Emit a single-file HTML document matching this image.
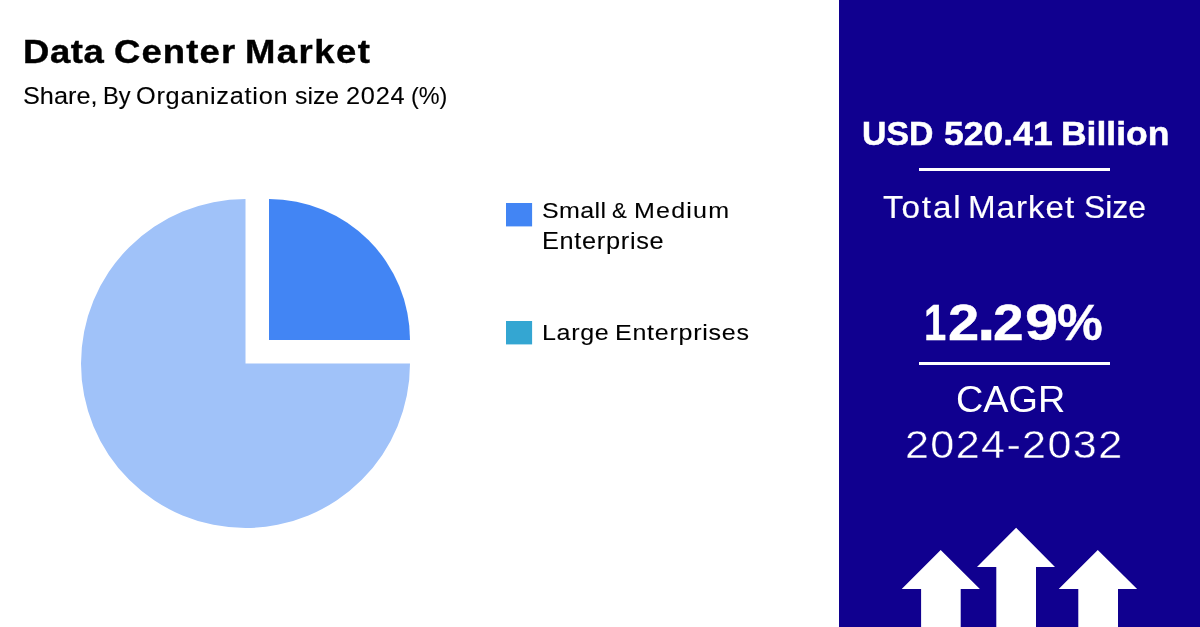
<!DOCTYPE html>
<html lang="en"><head><meta charset="utf-8"><title>Data Center Market</title>
<style>
html,body{margin:0;padding:0;background:#fff}
body{width:1200px;height:627px;position:relative;overflow:hidden;font-family:"Liberation Sans",sans-serif}
.panel{position:absolute;left:839px;top:0;width:361px;height:627px;background:#10008f}
.t{position:absolute;white-space:pre;transform-origin:0 0;display:block}
.rule{position:absolute;left:919px;width:191px;height:3px;background:#fff}
svg{position:absolute;left:0;top:0}
</style></head><body>
<div class="panel"></div>
<svg width="1200" height="627" viewBox="0 0 1200 627">
<path d="M245.5 363.5 L245.5 199 A164.5 164.5 0 1 0 410 363.5 Z" fill="#a0c2f9"/>
<path d="M269 340 L269 199 A141 141 0 0 1 410 340 Z" fill="#4285f4"/>
<rect x="506" y="203" width="26.1" height="23.4" fill="#4285f4"/>
<rect x="506" y="321" width="26.1" height="23.4" fill="#34a6d2"/>
<g fill="#fff">
<path d="M940.7 549.9 L979.9 589.1 L960.7 589.1 L960.7 627 L921.1 627 L921.1 589.1 L901.7 589.1 Z"/>
<path d="M1016.1 527.7 L1055 566.9 L1036 566.9 L1036 627 L996.3 627 L996.3 566.9 L977 566.9 Z"/>
<path d="M1097.8 549.9 L1137.1 589.1 L1118 589.1 L1118 627 L1078.3 627 L1078.3 589.1 L1058.7 589.1 Z"/>
</g>
</svg>
<div class="rule" style="top:168px"></div>
<div class="rule" style="top:362px"></div>
<div><span class="t" style="left:23.12px;top:35px;font-size:33.48px;line-height:33.48px;font-weight:700;color:#000;letter-spacing:0.554px;-webkit-text-stroke:0.4px #000;transform:scaleX(1.09)">Data </span>
<span class="t" style="left:114.14px;top:35px;font-size:33.48px;line-height:33.48px;font-weight:700;color:#000;letter-spacing:1.027px;-webkit-text-stroke:0.4px #000;transform:scaleX(1.09)">Center </span>
<span class="t" style="left:244.82px;top:35px;font-size:33.48px;line-height:33.48px;font-weight:700;color:#000;letter-spacing:1.327px;-webkit-text-stroke:0.4px #000;transform:scaleX(1.09)">Market</span></div>
<div><span class="t" style="left:22.71px;top:85px;font-size:23.26px;line-height:23.26px;font-weight:400;color:#000;-webkit-text-stroke:0.1px #000;transform:scaleX(1.087)">Share, </span>
<span class="t" style="left:102.52px;top:85px;font-size:23.26px;line-height:23.26px;font-weight:400;color:#000;letter-spacing:0.001px;-webkit-text-stroke:0.1px #000;transform:scaleX(1.0178)">By </span>
<span class="t" style="left:136.41px;top:85px;font-size:23.26px;line-height:23.26px;font-weight:400;color:#000;letter-spacing:0.654px;-webkit-text-stroke:0.1px #000;transform:scaleX(1.09)">Organization </span>
<span class="t" style="left:294.77px;top:85px;font-size:23.26px;line-height:23.26px;font-weight:400;color:#000;-webkit-text-stroke:0.1px #000;transform:scaleX(1.0675)">size </span>
<span class="t" style="left:345.61px;top:85px;font-size:23.26px;line-height:23.26px;font-weight:400;color:#000;letter-spacing:0.681px;-webkit-text-stroke:0.1px #000;transform:scaleX(1.09)">2024 </span>
<span class="t" style="left:411.24px;top:85px;font-size:23.26px;line-height:23.26px;font-weight:400;color:#000;-webkit-text-stroke:0.1px #000;transform:scaleX(1.006)">(%)</span></div>
<div><span class="t" style="left:542.16px;top:199px;font-size:22.97px;line-height:22.97px;font-weight:400;color:#000;letter-spacing:0.344px;-webkit-text-stroke:0.1px #000;transform:scaleX(1.09)">Small </span>
<span class="t" style="left:612.17px;top:199px;font-size:22.97px;line-height:22.97px;font-weight:400;color:#000;-webkit-text-stroke:0.1px #000;transform:scaleX(0.9684)">&amp; </span>
<span class="t" style="left:633.89px;top:199px;font-size:22.97px;line-height:22.97px;font-weight:400;color:#000;letter-spacing:1.107px;-webkit-text-stroke:0.1px #000;transform:scaleX(1.09)">Medium</span></div>
<div><span class="t" style="left:542.29px;top:230px;font-size:23.26px;line-height:23.26px;font-weight:400;color:#000;letter-spacing:0.628px;-webkit-text-stroke:0.1px #000;transform:scaleX(1.09)">Enterprise</span></div>
<div><span class="t" style="left:542.29px;top:321px;font-size:22.97px;line-height:22.97px;font-weight:400;color:#000;letter-spacing:0.633px;-webkit-text-stroke:0.1px #000;transform:scaleX(1.09)">Large </span>
<span class="t" style="left:614.69px;top:321px;font-size:22.97px;line-height:22.97px;font-weight:400;color:#000;letter-spacing:0.680px;-webkit-text-stroke:0.1px #000;transform:scaleX(1.09)">Enterprises</span></div>
<div><span class="t" style="left:861.77px;top:116px;font-size:34.13px;line-height:34.13px;font-weight:700;color:#fff;letter-spacing:-0.002px;-webkit-text-stroke:0.5px #fff;transform:scaleX(0.9899)">USD </span>
<span class="t" style="left:943.52px;top:116px;font-size:34.13px;line-height:34.13px;font-weight:700;color:#fff;-webkit-text-stroke:0.5px #fff;transform:scaleX(1.0408)">520.41 </span>
<span class="t" style="left:1061.42px;top:116px;font-size:34.13px;line-height:34.13px;font-weight:700;color:#fff;-webkit-text-stroke:0.5px #fff;transform:scaleX(1.0398)">Billion</span></div>
<div><span class="t" style="left:882.66px;top:192px;font-size:30.47px;line-height:30.47px;font-weight:400;color:#fff;letter-spacing:1.725px;-webkit-text-stroke:0.15px #fff;transform:scaleX(1.09)">Total </span>
<span class="t" style="left:968.38px;top:192px;font-size:30.47px;line-height:30.47px;font-weight:400;color:#fff;letter-spacing:0.872px;-webkit-text-stroke:0.15px #fff;transform:scaleX(1.09)">Market </span>
<span class="t" style="left:1084.39px;top:192px;font-size:30.47px;line-height:30.47px;font-weight:400;color:#fff;-webkit-text-stroke:0.15px #fff;transform:scaleX(1.0467)">Size</span></div>
<div><span class="t" style="left:924.24px;top:298px;font-size:50.72px;line-height:50.72px;font-weight:700;color:#fff;-webkit-text-stroke:0.4px #fff;transform:scaleX(0.7875)">1</span><span class="t" style="left:947.64px;top:298px;font-size:50.72px;line-height:50.72px;font-weight:700;color:#fff;-webkit-text-stroke:0.4px #fff;transform:scaleX(1.1071)">2</span><span class="t" style="left:976.68px;top:284px;font-size:66.00px;line-height:66.00px;font-weight:700;color:#fff;-webkit-text-stroke:0.4px #fff;transform:scaleX(1.0154)">.</span><span class="t" style="left:993.07px;top:298px;font-size:50.72px;line-height:50.72px;font-weight:700;color:#fff;-webkit-text-stroke:0.4px #fff;transform:scaleX(1.0869)">2</span><span class="t" style="left:1024.64px;top:298px;font-size:50.72px;line-height:50.72px;font-weight:700;color:#fff;-webkit-text-stroke:0.4px #fff;transform:scaleX(1.176)">9</span><span class="t" style="left:1057.49px;top:298px;font-size:50.72px;line-height:50.72px;font-weight:700;color:#fff;-webkit-text-stroke:0.4px #fff;transform:scaleX(1.014)">%</span></div>
<div><span class="t" style="left:955.99px;top:382px;font-size:36.67px;line-height:36.67px;font-weight:400;color:#fff;transform:scaleX(1.0322)">CAGR</span></div>
<div><span class="t" style="left:905.45px;top:425px;font-size:39.57px;line-height:39.57px;font-weight:400;color:#fff;letter-spacing:1.253px;-webkit-text-stroke:0.4px #10008f;transform:scaleX(1.09)">2024-2032</span></div>
</body></html>
